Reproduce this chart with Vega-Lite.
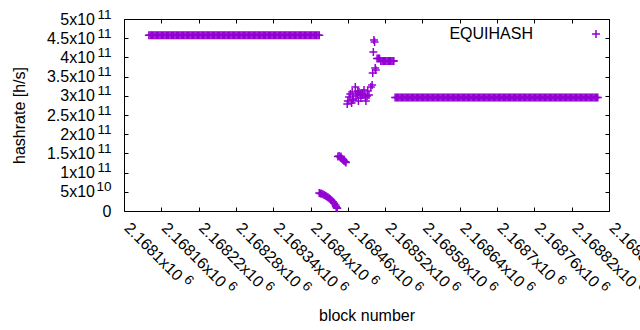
{
"$schema":"https://vega.github.io/schema/vega-lite/v6.json",
"width":485,"height":192,"autosize":"none",
"padding":{"left":124,"top":19,"right":31,"bottom":119},
"background":"white",
"config":{"view":{"stroke":"black","strokeWidth":1},
"axis":{"domain":false,"grid":false,"labelFont":"Liberation Sans","labelFontSize":16,"labelColor":"black","titleFont":"Liberation Sans","titleFontSize":16,"titleFontWeight":"normal","titleColor":"black","tickColor":"black","labelOverlap":false,"labelFlush":false,"labelBound":false}},
"data":{"values":[
{"b":2168140,"h":4.58e11},{"b":2168142,"h":4.58e11},{"b":2168144,"h":4.58e11},{"b":2168146,"h":4.58e11},{"b":2168148,"h":4.58e11},{"b":2168150,"h":4.58e11},{"b":2168152,"h":4.58e11},{"b":2168154,"h":4.58e11},{"b":2168156,"h":4.58e11},{"b":2168158,"h":4.58e11},
{"b":2168160,"h":4.58e11},{"b":2168162,"h":4.58e11},{"b":2168164,"h":4.58e11},{"b":2168166,"h":4.58e11},{"b":2168168,"h":4.58e11},{"b":2168170,"h":4.58e11},{"b":2168172,"h":4.58e11},{"b":2168174,"h":4.58e11},{"b":2168176,"h":4.58e11},{"b":2168178,"h":4.58e11},
{"b":2168180,"h":4.58e11},{"b":2168182,"h":4.58e11},{"b":2168184,"h":4.58e11},{"b":2168186,"h":4.58e11},{"b":2168188,"h":4.58e11},{"b":2168190,"h":4.58e11},{"b":2168192,"h":4.58e11},{"b":2168194,"h":4.58e11},{"b":2168196,"h":4.58e11},{"b":2168198,"h":4.58e11},
{"b":2168200,"h":4.58e11},{"b":2168202,"h":4.58e11},{"b":2168204,"h":4.58e11},{"b":2168206,"h":4.58e11},{"b":2168208,"h":4.58e11},{"b":2168210,"h":4.58e11},{"b":2168212,"h":4.58e11},{"b":2168214,"h":4.58e11},{"b":2168216,"h":4.58e11},{"b":2168218,"h":4.58e11},
{"b":2168220,"h":4.58e11},{"b":2168222,"h":4.58e11},{"b":2168224,"h":4.58e11},{"b":2168226,"h":4.58e11},{"b":2168228,"h":4.58e11},{"b":2168230,"h":4.58e11},{"b":2168232,"h":4.58e11},{"b":2168234,"h":4.58e11},{"b":2168236,"h":4.58e11},{"b":2168238,"h":4.58e11},
{"b":2168240,"h":4.58e11},{"b":2168242,"h":4.58e11},{"b":2168244,"h":4.58e11},{"b":2168246,"h":4.58e11},{"b":2168248,"h":4.58e11},{"b":2168250,"h":4.58e11},{"b":2168252,"h":4.58e11},{"b":2168254,"h":4.58e11},{"b":2168256,"h":4.58e11},{"b":2168258,"h":4.58e11},
{"b":2168260,"h":4.58e11},{"b":2168262,"h":4.58e11},{"b":2168264,"h":4.58e11},{"b":2168266,"h":4.58e11},{"b":2168268,"h":4.58e11},{"b":2168270,"h":4.58e11},{"b":2168272,"h":4.58e11},{"b":2168274,"h":4.58e11},{"b":2168276,"h":4.58e11},{"b":2168278,"h":4.58e11},
{"b":2168280,"h":4.58e11},{"b":2168282,"h":4.58e11},{"b":2168284,"h":4.58e11},{"b":2168286,"h":4.58e11},{"b":2168288,"h":4.58e11},{"b":2168290,"h":4.58e11},{"b":2168292,"h":4.58e11},{"b":2168294,"h":4.58e11},{"b":2168296,"h":4.58e11},{"b":2168298,"h":4.58e11},
{"b":2168300,"h":4.58e11},{"b":2168302,"h":4.58e11},{"b":2168304,"h":4.58e11},{"b":2168306,"h":4.58e11},{"b":2168308,"h":4.58e11},{"b":2168310,"h":4.58e11},{"b":2168312,"h":4.58e11},{"b":2168314,"h":4.58e11},{"b":2168316,"h":4.58e11},{"b":2168318,"h":4.58e11},
{"b":2168320,"h":4.58e11},{"b":2168322,"h":4.58e11},{"b":2168324,"h":4.58e11},{"b":2168326,"h":4.58e11},{"b":2168328,"h":4.58e11},{"b":2168330,"h":4.58e11},{"b":2168332,"h":4.58e11},{"b":2168334,"h":4.58e11},{"b":2168336,"h":4.58e11},{"b":2168338,"h":4.58e11},
{"b":2168340,"h":4.58e11},{"b":2168342,"h":4.58e11},{"b":2168344,"h":4.58e11},{"b":2168346,"h":4.58e11},{"b":2168348,"h":4.58e11},{"b":2168350,"h":4.58e11},{"b":2168352,"h":4.58e11},{"b":2168354,"h":4.58e11},{"b":2168356,"h":4.58e11},{"b":2168358,"h":4.58e11},
{"b":2168360,"h":4.58e11},{"b":2168362,"h":4.58e11},{"b":2168364,"h":4.58e11},{"b":2168366,"h":4.58e11},{"b":2168368,"h":4.58e11},{"b":2168370,"h":4.58e11},{"b":2168372,"h":4.58e11},{"b":2168374,"h":4.58e11},{"b":2168376,"h":4.58e11},{"b":2168378,"h":4.58e11},
{"b":2168380,"h":4.58e11},{"b":2168382,"h":4.58e11},{"b":2168384,"h":4.58e11},{"b":2168386,"h":4.58e11},{"b":2168388,"h":4.58e11},{"b":2168390,"h":4.58e11},{"b":2168392,"h":4.58e11},{"b":2168394,"h":4.58e11},{"b":2168396,"h":4.58e11},{"b":2168398,"h":4.58e11},
{"b":2168400,"h":4.58e11},{"b":2168402,"h":4.58e11},{"b":2168404,"h":4.58e11},{"b":2168406,"h":4.58e11},{"b":2168408,"h":4.58e11},{"b":2168410,"h":4.58e11},{"b":2168412,"h":4.58e11},{"b":2168414,"h":4.58e11},
{"b":2168414,"h":4.69e10},{"b":2168416,"h":4.58e10},{"b":2168418,"h":4.48e10},{"b":2168420,"h":4.35e10},{"b":2168422,"h":4.17e10},{"b":2168424,"h":3.98e10},{"b":2168426,"h":3.78e10},{"b":2168428,"h":3.57e10},{"b":2168430,"h":3.31e10},{"b":2168432,"h":3.05e10},{"b":2168434,"h":2.73e10},{"b":2168436,"h":2.4e10},{"b":2168438,"h":2.0e10},{"b":2168440,"h":1.56e10},{"b":2168441,"h":1.17e10},{"b":2168442,"h":0.85e10},{"b":2168443,"h":0.7e10},
{"b":2168444,"h":1.42e11},{"b":2168446,"h":1.43e11},{"b":2168448,"h":1.39e11},{"b":2168449,"h":1.42e11},{"b":2168450,"h":1.37e11},{"b":2168452,"h":1.34e11},{"b":2168453,"h":1.33e11},{"b":2168454,"h":1.3e11},{"b":2168456,"h":1.28e11},{"b":2168457,"h":1.26e11},
{"b":2168459,"h":2.786e11},{"b":2168460,"h":2.864e11},{"b":2168462,"h":2.969e11},{"b":2168464,"h":3.047e11},{"b":2168466,"h":2.812e11},{"b":2168467,"h":3.099e11},{"b":2168468,"h":2.89e11},{"b":2168469,"h":2.917e11},{"b":2168472,"h":3.229e11},{"b":2168473,"h":2.995e11},
{"b":2168475,"h":3.047e11},{"b":2168476,"h":3.125e11},{"b":2168477,"h":2.864e11},{"b":2168478,"h":3.099e11},{"b":2168480,"h":3.021e11},{"b":2168481,"h":2.943e11},{"b":2168483,"h":3.073e11},{"b":2168484,"h":3.021e11},{"b":2168486,"h":3.151e11},{"b":2168488,"h":2.969e11},
{"b":2168489,"h":2.864e11},{"b":2168491,"h":2.995e11},{"b":2168492,"h":3.125e11},{"b":2168494,"h":3.02e11},{"b":2168497,"h":3.229e11},{"b":2168499,"h":3.281e11},{"b":2168500,"h":3.594e11},{"b":2168501,"h":4.14e11},{"b":2168502,"h":4.453e11},{"b":2168503,"h":4.4e11},{"b":2168504,"h":3.724e11},{"b":2168505,"h":3.67e11},
{"b":2168507,"h":3.97e11},{"b":2168509,"h":3.97e11},{"b":2168511,"h":3.97e11},{"b":2168513,"h":3.906e11},{"b":2168515,"h":3.906e11},{"b":2168517,"h":3.906e11},{"b":2168519,"h":3.906e11},{"b":2168521,"h":3.906e11},{"b":2168523,"h":3.906e11},{"b":2168525,"h":3.906e11},{"b":2168527,"h":3.906e11},{"b":2168529,"h":3.906e11},{"b":2168531,"h":3.906e11},{"b":2168533,"h":3.906e11},{"b":2168534,"h":3.906e11},
{"b":2168536,"h":2.956e11},{"b":2168538,"h":2.956e11},{"b":2168540,"h":2.956e11},{"b":2168542,"h":2.956e11},{"b":2168544,"h":2.956e11},{"b":2168546,"h":2.956e11},{"b":2168548,"h":2.956e11},{"b":2168550,"h":2.956e11},{"b":2168552,"h":2.956e11},{"b":2168554,"h":2.956e11},{"b":2168556,"h":2.956e11},{"b":2168558,"h":2.956e11},
{"b":2168560,"h":2.956e11},{"b":2168562,"h":2.956e11},{"b":2168564,"h":2.956e11},{"b":2168566,"h":2.956e11},{"b":2168568,"h":2.956e11},{"b":2168570,"h":2.956e11},{"b":2168572,"h":2.956e11},{"b":2168574,"h":2.956e11},{"b":2168576,"h":2.956e11},{"b":2168578,"h":2.956e11},
{"b":2168580,"h":2.956e11},{"b":2168582,"h":2.956e11},{"b":2168584,"h":2.956e11},{"b":2168586,"h":2.956e11},{"b":2168588,"h":2.956e11},{"b":2168590,"h":2.956e11},{"b":2168592,"h":2.956e11},{"b":2168594,"h":2.956e11},{"b":2168596,"h":2.956e11},{"b":2168598,"h":2.956e11},
{"b":2168600,"h":2.956e11},{"b":2168602,"h":2.956e11},{"b":2168604,"h":2.956e11},{"b":2168606,"h":2.956e11},{"b":2168608,"h":2.956e11},{"b":2168610,"h":2.956e11},{"b":2168612,"h":2.956e11},{"b":2168614,"h":2.956e11},{"b":2168616,"h":2.956e11},{"b":2168618,"h":2.956e11},
{"b":2168620,"h":2.956e11},{"b":2168622,"h":2.956e11},{"b":2168624,"h":2.956e11},{"b":2168626,"h":2.956e11},{"b":2168628,"h":2.956e11},{"b":2168630,"h":2.956e11},{"b":2168632,"h":2.956e11},{"b":2168634,"h":2.956e11},{"b":2168636,"h":2.956e11},{"b":2168638,"h":2.956e11},
{"b":2168640,"h":2.956e11},{"b":2168642,"h":2.956e11},{"b":2168644,"h":2.956e11},{"b":2168646,"h":2.956e11},{"b":2168648,"h":2.956e11},{"b":2168650,"h":2.956e11},{"b":2168652,"h":2.956e11},{"b":2168654,"h":2.956e11},{"b":2168656,"h":2.956e11},{"b":2168658,"h":2.956e11},
{"b":2168660,"h":2.956e11},{"b":2168662,"h":2.956e11},{"b":2168664,"h":2.956e11},{"b":2168666,"h":2.956e11},{"b":2168668,"h":2.956e11},{"b":2168670,"h":2.956e11},{"b":2168672,"h":2.956e11},{"b":2168674,"h":2.956e11},{"b":2168676,"h":2.956e11},{"b":2168678,"h":2.956e11},
{"b":2168680,"h":2.956e11},{"b":2168682,"h":2.956e11},{"b":2168684,"h":2.956e11},{"b":2168686,"h":2.956e11},{"b":2168688,"h":2.956e11},{"b":2168690,"h":2.956e11},{"b":2168692,"h":2.956e11},{"b":2168694,"h":2.956e11},{"b":2168696,"h":2.956e11},{"b":2168698,"h":2.956e11},
{"b":2168700,"h":2.956e11},{"b":2168702,"h":2.956e11},{"b":2168704,"h":2.956e11},{"b":2168706,"h":2.956e11},{"b":2168708,"h":2.956e11},{"b":2168710,"h":2.956e11},{"b":2168712,"h":2.956e11},{"b":2168714,"h":2.956e11},{"b":2168716,"h":2.956e11},{"b":2168718,"h":2.956e11},
{"b":2168720,"h":2.956e11},{"b":2168722,"h":2.956e11},{"b":2168724,"h":2.956e11},{"b":2168726,"h":2.956e11},{"b":2168728,"h":2.956e11},{"b":2168730,"h":2.956e11},{"b":2168732,"h":2.956e11},{"b":2168734,"h":2.956e11},{"b":2168736,"h":2.956e11},{"b":2168738,"h":2.956e11},
{"b":2168740,"h":2.956e11},{"b":2168742,"h":2.956e11},{"b":2168744,"h":2.956e11},{"b":2168746,"h":2.956e11},{"b":2168748,"h":2.956e11},{"b":2168750,"h":2.956e11},{"b":2168752,"h":2.956e11},{"b":2168754,"h":2.956e11},{"b":2168756,"h":2.956e11},{"b":2168758,"h":2.956e11},
{"b":2168760,"h":2.956e11},{"b":2168762,"h":2.956e11},{"b":2168764,"h":2.956e11},{"b":2168766,"h":2.956e11},{"b":2168768,"h":2.956e11},{"b":2168770,"h":2.956e11},{"b":2168772,"h":2.956e11},{"b":2168774,"h":2.956e11},{"b":2168776,"h":2.956e11},{"b":2168778,"h":2.956e11},
{"b":2168780,"h":2.956e11},{"b":2168782,"h":2.956e11},{"b":2168784,"h":2.956e11},{"b":2168786,"h":2.956e11},{"b":2168788,"h":2.956e11},{"b":2168790,"h":2.956e11},{"b":2168792,"h":2.956e11},{"b":2168794,"h":2.956e11},{"b":2168796,"h":2.956e11},{"b":2168798,"h":2.956e11},
{"b":2168800,"h":2.956e11},{"b":2168802,"h":2.956e11},{"b":2168804,"h":2.956e11},{"b":2168806,"h":2.956e11},{"b":2168808,"h":2.956e11},{"b":2168810,"h":2.956e11},{"b":2168812,"h":2.956e11},{"b":2168814,"h":2.956e11},{"b":2168816,"h":2.956e11},{"b":2168818,"h":2.956e11},
{"b":2168820,"h":2.956e11},{"b":2168822,"h":2.956e11},{"b":2168824,"h":2.956e11},{"b":2168826,"h":2.956e11},{"b":2168828,"h":2.956e11},{"b":2168830,"h":2.956e11},{"b":2168832,"h":2.956e11},{"b":2168834,"h":2.956e11},{"b":2168836,"h":2.956e11},{"b":2168838,"h":2.956e11},
{"b":2168840,"h":2.956e11},{"b":2168842,"h":2.956e11},{"b":2168844,"h":2.956e11},{"b":2168846,"h":2.956e11},{"b":2168848,"h":2.956e11},{"b":2168850,"h":2.956e11},{"b":2168852,"h":2.956e11},{"b":2168854,"h":2.956e11},{"b":2168856,"h":2.956e11},{"b":2168858,"h":2.956e11},
{"b":2168860,"h":2.956e11},{"b":2168862,"h":2.956e11}
]},
"resolve":{"axis":{"x":"independent","y":"independent"}},
"layer":[
{"mark":{"type":"point","shape":"M-1,0L1,0M0,-1L0,1","filled":false,"size":64,"strokeWidth":1.5,"opacity":1},
"encoding":{
"x":{"field":"b","type":"quantitative","scale":{"domain":[2168100,2168880],"nice":false,"zero":false},
"axis":{"orient":"bottom","values":[2168100,2168160,2168220,2168280,2168340,2168400,2168460,2168520,2168580,2168640,2168700,2168760,2168820,2168880],"ticks":false,"labelAngle":45,"labelAlign":"left","labelBaseline":"middle","labelOffset":2.5,"labelPadding":14,"labelExpr":"(datum.value/1e6) + 'x10'","title":"block number","titlePadding":18}},
"y":{"field":"h","type":"quantitative","scale":{"domain":[0,5e11],"nice":false,"zero":true},
"axis":{"orient":"left","values":[0,5e10,1e11,1.5e11,2e11,2.5e11,3e11,3.5e11,4e11,4.5e11,5e11],"ticks":false,"labelPadding":29.5,"labelExpr":"datum.value == 0 ? '' : (datum.value < 1e11 ? (datum.value/1e10) + 'x10' : (datum.value/1e11) + 'x10')","title":"hashrate [h/s]","titlePadding":19}},
"color":{"datum":"EQUIHASH","type":"nominal","scale":{"range":["#9400d3"]},
"legend":{"orient":"none","legendX":464,"legendY":7,"title":null,"padding":0,"symbolType":"M-1,0L1,0M0,-1L0,1","symbolSize":64,"symbolStrokeWidth":1.5,"symbolStrokeColor":"#9400d3","symbolFillColor":"transparent","labelAlign":"right","labelOffset":-71,"labelFont":"Liberation Sans","labelFontSize":16,"labelColor":"black"}}
}},
{"mark":{"type":"point","opacity":0},
"encoding":{
"x":{"field":"b","type":"quantitative","axis":{"orient":"bottom","values":[2168100,2168160,2168220,2168280,2168340,2168400,2168460,2168520,2168580,2168640,2168700,2168760,2168820,2168880],"ticks":false,"labelAngle":45,"labelAlign":"left","labelBaseline":"middle","labelFontSize":13.5,"labelOffset":{"condition":{"test":"datum.value % 100 === 0","value":61.6},"value":67.9},"labelPadding":{"condition":{"test":"datum.value % 100 === 0","value":66.1},"value":72.4},"labelExpr":"'6'","title":null}},
"y":{"field":"h","type":"quantitative","axis":{"orient":"left","values":[0,5e10,1e11,1.5e11,2e11,2.5e11,3e11,3.5e11,4e11,4.5e11,5e11],"ticks":false,"labelPadding":13,"labelFontSize":{"condition":{"test":"datum.value === 0","value":16},"value":13.5},"labelOffset":{"condition":{"test":"datum.value === 0","value":0},"value":-5},"labelExpr":"datum.value == 0 ? '0' : (datum.value < 1e11 ? '10' : '11')","title":null}}
}},
{"mark":{"type":"point","opacity":0},
"encoding":{
"x":{"field":"b","type":"quantitative","axis":{"orient":"top","offset":-192,"values":[2168100,2168160,2168220,2168280,2168340,2168400,2168460,2168520,2168580,2168640,2168700,2168760,2168820,2168880],"ticks":true,"tickSize":4,"labels":false,"title":null}},
"y":{"field":"h","type":"quantitative","axis":{"orient":"right","offset":-485,"values":[0,5e10,1e11,1.5e11,2e11,2.5e11,3e11,3.5e11,4e11,4.5e11,5e11],"ticks":true,"tickSize":4,"labels":false,"title":null}}
}},
{"mark":{"type":"point","opacity":0},
"encoding":{
"x":{"field":"b","type":"quantitative","axis":{"orient":"bottom","offset":-192,"values":[2168100,2168160,2168220,2168280,2168340,2168400,2168460,2168520,2168580,2168640,2168700,2168760,2168820,2168880],"ticks":true,"tickSize":4,"labels":false,"title":null}},
"y":{"field":"h","type":"quantitative","axis":{"orient":"left","offset":-485,"values":[0,5e10,1e11,1.5e11,2e11,2.5e11,3e11,3.5e11,4e11,4.5e11,5e11],"ticks":true,"tickSize":4,"labels":false,"title":null}}
}}
]
}
